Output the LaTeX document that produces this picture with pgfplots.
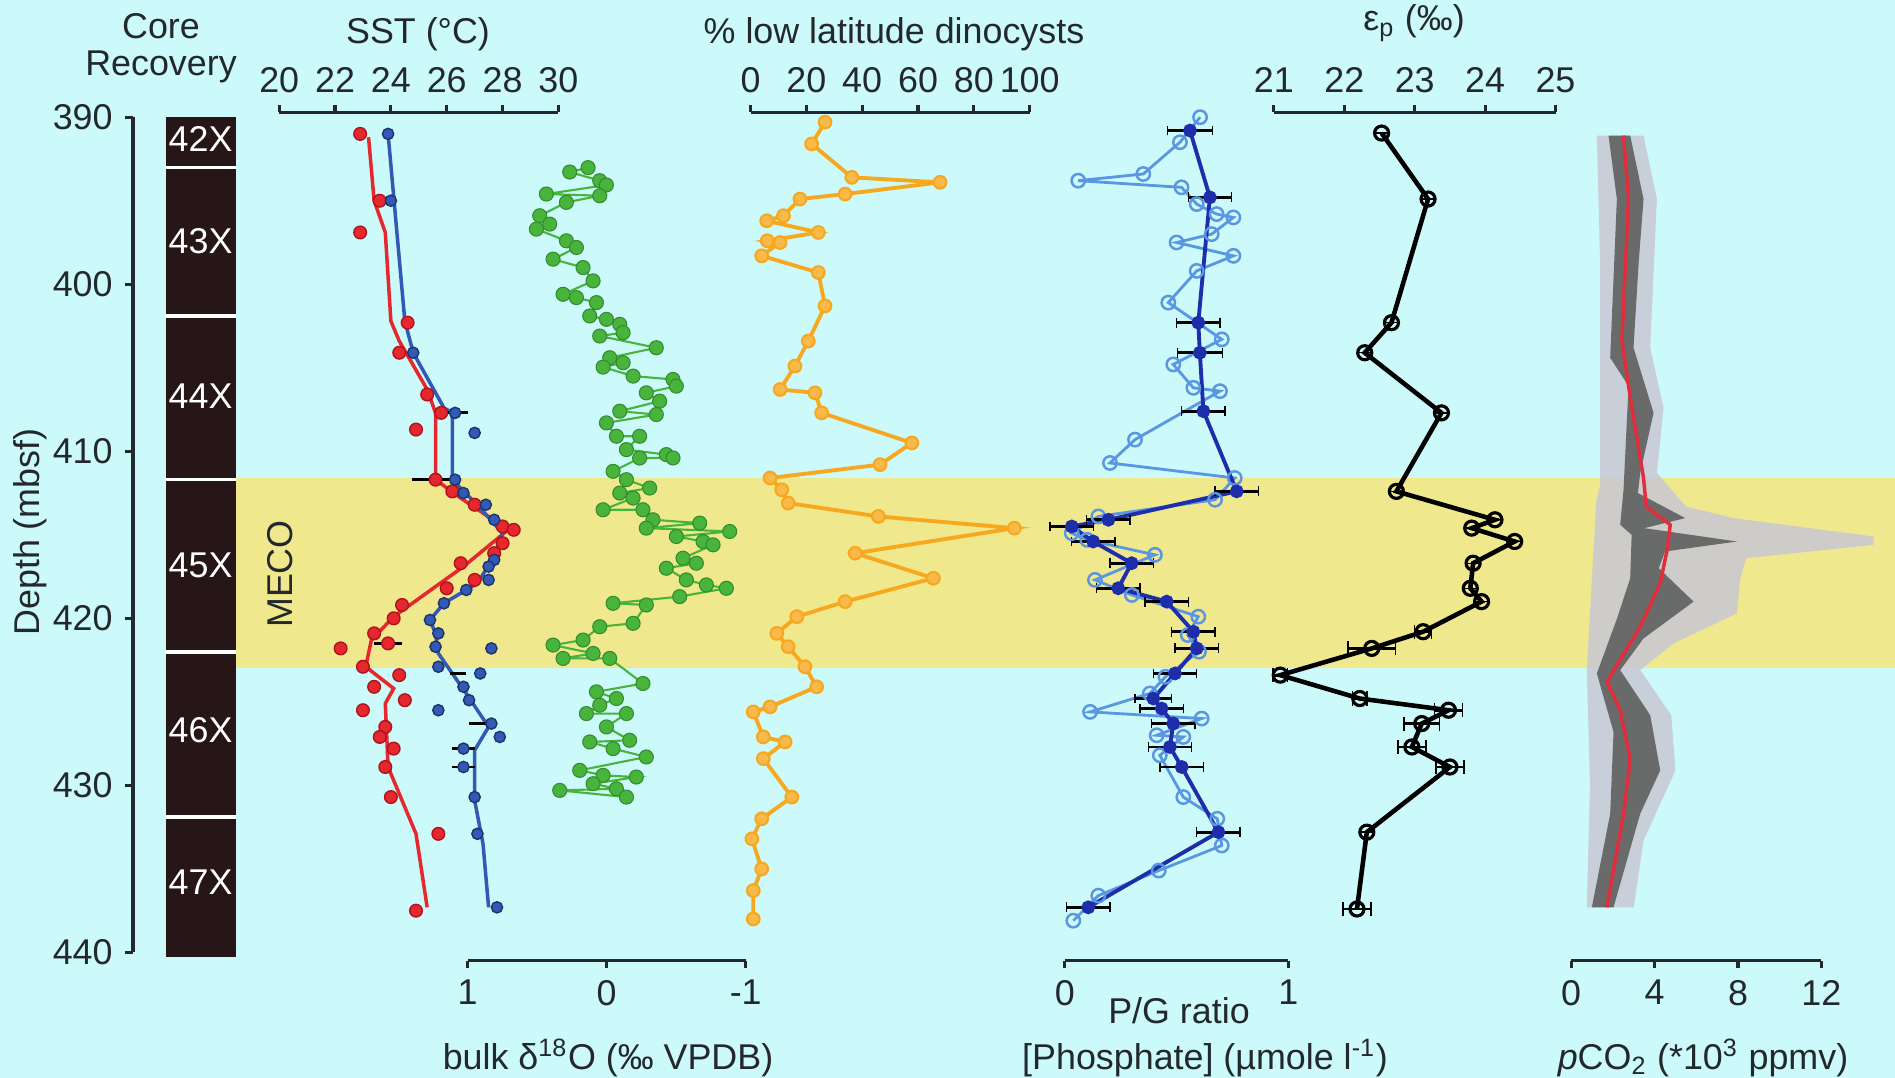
\documentclass[border=0pt]{standalone}
\usepackage{fontspec}
\setmainfont{Liberation Sans}
\usepackage{pgfplots}
\pgfplotsset{compat=1.18}
\definecolor{bg}{RGB}{204,250,250}
\definecolor{meco}{RGB}{240,232,140}
\definecolor{core}{RGB}{38,22,24}
\definecolor{txt}{RGB}{35,40,45}
\definecolor{sstred}{RGB}{228,40,45}
\definecolor{sstredd}{RGB}{175,20,30}
\definecolor{sstblue}{RGB}{50,90,180}
\definecolor{sstblued}{RGB}{30,50,110}
\definecolor{grn}{RGB}{72,180,60}
\definecolor{grnd}{RGB}{50,140,45}
\definecolor{org}{RGB}{248,168,30}
\definecolor{lblue}{RGB}{90,150,225}
\definecolor{dblue}{RGB}{30,45,170}
\definecolor{cdark}{RGB}{105,107,107}
\definecolor{clight}{RGB}{200,200,212}
\definecolor{cred}{RGB}{225,45,60}
\newcommand\fs{\fontsize{10.2}{12}\selectfont}
\pgfplotsset{
  panel/.style={scale only axis, anchor=north west, height=8.486cm,
    y dir=reverse, ymin=389.7, ymax=440.5, axis y line=none, clip=false,
    tick align=outside, major tick length=0.07cm,
    axis line style={-, line width=0.9pt, draw=txt},
    major tick style={line width=0.9pt, draw=txt},
    xticklabel style={font=\fs, text=txt},
    /pgf/number format/assume math mode=true},
  toppanel/.style={axis x line=top, panel},
  botpanel/.style={axis x line=bottom, panel},
}
\begin{document}
\begin{tikzpicture}
\fill[bg] (0,0) rectangle (18.95,-10.78);

% ---------- background: MECO band and core column
\begin{axis}[scale only axis, anchor=north west, at={(0cm,-1.1219cm)}, width=18.95cm, height=8.486cm,
  xmin=0, xmax=1895, ymin=389.7, ymax=440.5, y dir=reverse, hide axis, clip=false]
\addplot[fill=meco, draw=none] coordinates {(236,411.6) (1895,411.6) (1895,423.0) (236,423.0)} -- cycle;
\addplot[fill=core, draw=none] coordinates {(165.6,390) (235.7,390) (235.7,440.3) (165.6,440.3)} -- cycle;
\addplot[white, line width=1pt] coordinates {(165.6,393.0) (235.7,393.0)};
\addplot[white, line width=1pt] coordinates {(165.6,401.9) (235.7,401.9)};
\addplot[white, line width=1pt] coordinates {(165.6,411.7) (235.7,411.7)};
\addplot[white, line width=1pt] coordinates {(165.6,422.0) (235.7,422.0)};
\addplot[white, line width=1pt] coordinates {(165.6,431.9) (235.7,431.9)};
\node[text=white, font=\fs] at (axis cs:200.6,391.3) {42X};
\node[text=white, font=\fs] at (axis cs:200.6,397.4) {43X};
\node[text=white, font=\fs] at (axis cs:200.6,406.7) {44X};
\node[text=white, font=\fs] at (axis cs:200.6,416.8) {45X};
\node[text=white, font=\fs] at (axis cs:200.6,426.7) {46X};
\node[text=white, font=\fs] at (axis cs:200.6,435.8) {47X};
\node[rotate=90, font=\fs, text=txt] at (axis cs:280,417.35) {MECO};
\end{axis}

% ---------- depth axis
\begin{axis}[axis y line=left, axis x line=none, scale only axis, anchor=north west, at={(1.33cm,-1.172cm)}, width=0.5cm, height=8.352cm,
  xmin=0, xmax=1, ymin=390, ymax=440, y dir=reverse,
  ytick={390,400,...,440}, tick align=outside, major tick length=0.08cm,
  axis line style={-, line width=0.9pt, draw=txt}, major tick style={line width=0.9pt, draw=txt},
  yticklabel style={font=\fs, text=txt}, /pgf/number format/assume math mode=true]
\end{axis}

% ---------- pCO2
\begin{axis}[botpanel, at={(15.712cm,-1.1219cm)}, width=2.502cm, xmin=0, xmax=12, xtick={0,4,8,12}]
\addplot[fill=clight, draw=none, fill opacity=0.85] coordinates {
(1.23,391.1) (1.39,398.8) (1.39,412.0) (1.2,413.0) (0.75,423.1) (0.9,430.0) (0.75,437.3)
(3.0,437.3) (3.47,433.3) (5.0,429.1) (4.8,425.8) (3.31,423.1) (4.91,421.5) (7.95,419.7) (8.11,417.6)
(8.4,416.4) (14.5,415.6) (14.5,415.1) (7.79,414.0) (5.5,413.3) (4.11,411.3) (4.43,407.4) (3.79,403.8) (4.11,394.9) (3.47,391.1)} -- cycle;
\addplot[fill=cdark, draw=none] coordinates {
(1.79,391.1) (2.19,394.9) (1.87,404.4) (2.75,406.1) (2.51,412.3) (2.35,414.4) (2.9,415.0) (2.83,417.6) (2.2,420.0) (1.23,423.3) (2.03,426.8) (1.87,431.7) (0.99,437.3)
(2.03,437.3) (3.31,431.7) (4.27,429.1) (3.79,425.8) (2.35,423.1) (3.47,421.2) (5.87,419.0) (4.2,417.0) (4.5,416.0) (7.95,415.4) (3.5,414.6) (5.47,414.0) (3.2,412.5) (3.31,411.3) (3.95,407.7) (2.99,403.8) (3.23,398.8) (3.47,394.9) (2.83,391.1)} -- cycle;
\addplot[cred, line width=1pt] coordinates {
(2.51,391.1) (2.75,394.9) (2.43,403.4) (2.91,407.4) (3.47,411.6) (3.6,413.3) (4.75,414.4) (4.6,415.9) (4.27,417.9) (3.31,420.5) (2.19,422.8) (1.71,423.8) (2.35,425.5) (2.83,428.4) (2.51,431.7) (1.71,437.3)};
\end{axis}

% ---------- SST
\begin{axis}[toppanel, at={(2.792cm,-1.1219cm)}, width=2.792cm, xmin=20, xmax=30, xtick={20,22,...,30}]
\addplot[sstred, line width=1pt] coordinates {
(23.2,391.2) (23.4,395.0) (23.8,396.9) (24.0,402.2) (24.3,403.4) (25.3,406.3) (25.6,407.7) (25.6,411.7) (26.5,412.8) (28.2,414.7) (26.6,416.9) (24.1,419.9) (23.3,421.3) (23.1,422.9) (24.1,424.2) (23.8,425.1) (23.9,428.9) (24.9,432.9) (25.3,437.3)};
\addplot[sstblue, line width=1pt] coordinates {
(23.9,391.0) (24.5,402.2) (24.8,404.1) (25.9,407.4) (26.2,407.7) (26.2,411.7) (27.2,413.4) (28.0,414.9) (27.7,416.3) (27.1,417.9) (25.9,419.1) (25.4,420.1) (25.6,420.9) (25.7,422.1) (26.7,424.5) (27.5,426.5) (27.0,427.9) (27.0,430.9) (27.3,433.5) (27.5,437.3)};
\addplot[only marks, mark=*, mark size=1.8pt, mark options={fill=sstred, draw=sstredd, line width=0.4pt}] coordinates {
(22.9,391.0) (23.6,395.0) (22.9,396.9) (24.6,402.3) (24.3,404.1) (25.3,406.6) (25.8,407.7) (24.9,408.7) (25.6,411.7) (26.2,412.4) (27.0,413.2) (28.0,414.5) (28.4,414.7) (28.0,415.5) (27.7,416.1) (26.5,416.7) (27.0,417.7) (26.0,418.2) (24.4,419.2) (24.1,420.0) (23.4,420.9) (23.9,421.5) (22.2,421.8) (23.0,422.9) (24.3,423.4) (23.4,424.1) (24.5,424.9) (23.0,425.5) (23.8,426.5) (23.6,427.1) (24.1,427.8) (23.8,428.9) (24.0,430.7) (25.7,432.9) (24.9,437.5)};
\addplot[only marks, mark=*, mark size=1.6pt, mark options={fill=sstblue, draw=sstblued, line width=0.4pt}] coordinates {
(23.9,391.0) (24.0,395.0) (24.8,404.1) (26.3,407.7) (27.0,408.9) (26.3,411.7) (26.6,412.5) (27.4,413.2) (27.7,414.1) (27.7,416.5) (27.5,416.9) (27.5,417.7) (26.7,418.3) (25.9,419.1) (25.4,420.1) (25.7,420.9) (25.6,421.7) (27.6,421.8) (25.7,422.9) (27.2,423.3) (26.6,424.1) (26.8,424.9) (25.7,425.5) (27.6,426.3) (27.9,427.1) (26.6,427.8) (26.6,428.9) (27.0,430.7) (27.1,432.9) (27.8,437.3)};
\addplot[only marks, mark size=0pt, forget plot, error bars/.cd, x dir=both, x explicit, error bar style={black, line width=0.8pt}] coordinates {
(26.4,407.7) +- (0.35,0) (25.5,411.7) +- (0.75,0) (23.9,421.5) +- (0.5,0) (26.4,423.3) +- (0.3,0) (27.1,426.3) +- (0.3,0) (26.6,427.8) +- (0.4,0) (26.6,428.9) +- (0.4,0)};
\end{axis}

% ---------- bulk d18O
\begin{axis}[botpanel, at={(4.677cm,-1.1219cm)}, width=2.780cm, xmin=-1, xmax=1, x dir=reverse, xtick={-1,0,1}]
\addplot[grn, line width=0.6pt, mark=*, mark size=2pt, mark options={fill=grn, draw=grnd, line width=0.3pt}] coordinates {
(0.134,393.02) (0.266,393.28) (0.05,393.8) (0.002,394.06) (0.434,394.6) (0.05,394.7) (0.29,395.1) (0.482,395.9) (0.41,396.4) (0.506,396.7) (0.29,397.4) (0.218,397.8) (0.386,398.5) (0.17,399.0) (0.098,399.8) (0.314,400.6) (0.218,400.8) (0.074,401.1) (0.122,401.9) (0.002,402.1) (-0.094,402.4) (-0.118,402.9) (0.05,403.1) (-0.357,403.8) (-0.022,404.4) (-0.118,404.7) (0.026,404.96) (-0.19,405.5) (-0.477,405.7) (-0.501,406.1) (-0.285,406.5) (-0.381,407.0) (-0.094,407.6) (-0.357,407.8) (0.002,408.3) (-0.07,409.1) (-0.237,409.1) (-0.142,409.9) (-0.429,410.2) (-0.477,410.4) (-0.237,410.4) (-0.046,411.2) (-0.142,411.7) (-0.309,412.2) (-0.094,412.5) (-0.19,412.8) (0.026,413.5) (-0.261,413.5) (-0.333,414.1) (-0.669,414.3) (-0.285,414.6) (-0.885,414.8) (-0.501,415.1) (-0.693,415.4) (-0.765,415.6) (-0.549,416.4) (-0.645,416.7) (-0.429,417.0) (-0.573,417.7) (-0.717,418.0) (-0.861,418.2) (-0.525,418.7) (-0.046,419.1) (-0.285,419.2) (-0.19,420.3) (0.05,420.5) (0.17,421.3) (0.386,421.6) (0.098,422.1) (0.314,422.4) (-0.022,422.4) (-0.261,423.9) (0.074,424.4) (-0.07,424.8) (0.05,425.2) (0.146,425.7) (-0.142,425.7) (0.002,426.5) (-0.165,427.3) (0.122,427.4) (-0.046,427.8) (-0.285,428.3) (0.194,429.1) (0.026,429.4) (-0.213,429.5) (0.098,429.9) (-0.07,430.2) (0.338,430.3) (-0.142,430.7)};
\end{axis}

% ---------- dinocysts
\begin{axis}[toppanel, at={(7.505cm,-1.1219cm)}, width=2.792cm, xmin=0, xmax=100, xtick={0,20,...,100}]
\addplot[org, line width=1.1pt, mark=*, mark size=1.8pt, mark options={fill=org!80!white, draw=org, line width=0.6pt}] coordinates {
(26.7,390.3) (21.9,391.6) (36.3,393.6) (67.9,393.9) (33.9,394.6) (17.7,394.9) (11.8,395.9) (5.8,396.2) (24.3,396.9) (6.0,397.4) (10.6,397.5) (4.0,398.3) (24.3,399.3) (26.7,401.3) (20.7,403.4) (15.9,404.9) (10.6,406.3) (23.1,406.5) (25.5,407.7) (57.8,409.5) (46.4,410.8) (7.0,411.6) (11.2,412.3) (13.5,413.1) (45.8,413.9) (94.5,414.6) (37.5,416.1) (65.5,417.6) (33.9,419.0) (16.6,419.9) (9.4,420.9) (13.5,421.7) (19.5,422.9) (23.7,424.1) (7.0,425.3) (1.0,425.6) (4.6,427.1) (12.4,427.4) (4.6,428.4) (14.8,430.7) (4.0,432.0) (0.5,433.2) (4.0,435.0) (1.0,436.3) (1.0,438.0)};
\end{axis}

% ---------- P/G and phosphate
\begin{axis}[botpanel, at={(10.648cm,-1.1219cm)}, width=2.236cm, xmin=0, xmax=1, xtick={0,1}]
\addplot[lblue, line width=0.8pt, mark=o, mark size=1.9pt, mark options={fill=bg, draw=lblue, line width=0.7pt}] coordinates {
(0.605,390.0) (0.515,391.5) (0.351,393.4) (0.06,393.8) (0.522,394.2) (0.59,395.2) (0.679,395.8) (0.754,396.0) (0.657,397.0) (0.5,397.5) (0.754,398.3) (0.59,399.2) (0.463,401.1) (0.702,403.3) (0.485,404.8) (0.575,406.2) (0.694,406.4) (0.314,409.3) (0.202,410.7) (0.76,411.6) (0.672,412.9) (0.15,413.9) (0.031,414.9) (0.1,415.3) (0.403,416.2) (0.135,417.7) (0.3,418.6) (0.597,419.9) (0.55,421.0) (0.6,422.0) (0.45,423.5) (0.38,424.5) (0.113,425.6) (0.612,426.0) (0.411,427.0) (0.53,427.1) (0.425,428.2) (0.53,430.7) (0.682,432.0) (0.702,433.6) (0.42,435.1) (0.15,436.6) (0.038,438.1)};
\addplot[dblue, line width=1.1pt, mark=*, mark size=1.4pt, mark options={fill=dblue, draw=dblue},
  error bars/.cd, x dir=both, x explicit, error bar style={black, line width=0.8pt}] coordinates {
(0.56,390.8) +- (0.1,0) (0.649,394.8) +- (0.097,0) (0.597,402.3) +- (0.097,0) (0.604,404.1) +- (0.1,0) (0.62,407.6) +- (0.097,0) (0.769,412.4) +- (0.097,0) (0.195,414.1) +- (0.097,0) (0.031,414.5) +- (0.097,0) (0.127,415.4) +- (0.097,0) (0.299,416.7) +- (0.097,0) (0.239,418.2) +- (0.097,0) (0.456,419.0) +- (0.097,0) (0.575,420.8) +- (0.097,0) (0.59,421.8) +- (0.097,0) (0.493,423.3) +- (0.097,0) (0.396,424.8) +- (0.082,0) (0.433,425.4) +- (0.097,0) (0.485,426.3) +- (0.097,0) (0.47,427.7) +- (0.097,0) (0.523,428.9) +- (0.097,0) (0.687,432.8) +- (0.097,0) (0.105,437.3) +- (0.097,0)};
\end{axis}

% ---------- epsilon p
\begin{axis}[toppanel, at={(12.739cm,-1.1219cm)}, width=2.816cm, xmin=21, xmax=25, xtick={21,...,25}]
\addplot[black, line width=1.3pt, mark=o, mark size=2pt, mark options={fill=gray!60!bg, draw=black, line width=0.9pt},
  error bars/.cd, x dir=both, x explicit, error bar style={black, line width=0.8pt}] coordinates {
(22.53,390.95) +- (0,0) (23.19,394.9) +- (0,0) (22.67,402.3) +- (0,0) (22.29,404.1) +- (0,0) (23.38,407.7) +- (0,0) (22.74,412.4) +- (0,0) (24.14,414.1) +- (0,0) (23.81,414.6) +- (0,0) (24.42,415.4) +- (0,0) (23.83,416.7) +- (0,0) (23.79,418.2) +- (0,0) (23.95,419.0) +- (0,0) (23.12,420.8) +- (0.12,0) (22.39,421.8) +- (0.34,0) (21.09,423.4) +- (0.1,0) (22.22,424.8) +- (0.1,0) (23.48,425.5) +- (0.2,0) (23.1,426.3) +- (0.25,0) (22.96,427.7) +- (0.2,0) (23.5,428.9) +- (0.2,0) (22.32,432.8) +- (0,0) (22.18,437.4) +- (0.2,0)};
\end{axis}

% ---------- titles and labels
\begin{scope}[every node/.style={font=\fs, text=txt, inner sep=1pt}]
\node[align=center, font=\fontsize{10.2}{10.5}\selectfont] at (1.61,-0.48) {Core\\Recovery};
\node at (4.18,-0.34) {SST (°C)};
\node at (8.94,-0.34) {\% low latitude dinocysts};
\node at (14.14,-0.23) {ε\textsubscript{p} (‰)};
\node at (6.08,-10.58) {bulk δ\textsuperscript{18}O (‰ VPDB)};
\node at (11.79,-10.11) {P/G ratio};
\node at (12.05,-10.58) {[Phosphate] (µmole l\textsuperscript{-1})};
\node at (17.03,-10.58) {\textit{p}CO\textsubscript{2} (*10\textsuperscript{3} ppmv)};
\node[rotate=90] at (0.30,-5.32) {Depth (mbsf)};
\end{scope}
\pgfresetboundingbox
\useasboundingbox (0,0) rectangle (18.95,-10.78);
\end{tikzpicture}
\end{document}
